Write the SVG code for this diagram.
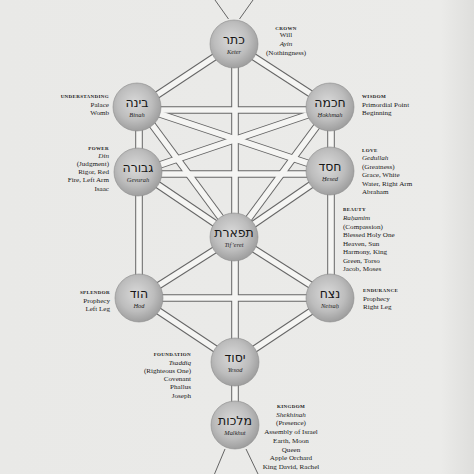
<svg xmlns="http://www.w3.org/2000/svg" xmlns:xlink="http://www.w3.org/1999/xlink" width="474" height="474" viewBox="0 0 474 474">
<defs>
<style>
.lab{font-family:"Liberation Serif","Times New Roman",serif;font-size:7.1px;fill:#1a1a1a}
.it{font-style:italic}
.hd{font-family:"Liberation Serif","Times New Roman",serif;font-size:5px;font-weight:bold;letter-spacing:0.35px;fill:#1a1a1a}
.heb{font-family:"DejaVu Sans","Liberation Sans",sans-serif;font-size:12.5px;fill:#161616;text-anchor:middle}
.tr{font-family:"Liberation Serif","Times New Roman",serif;font-style:italic;font-size:6.4px;fill:#1e1e1e;text-anchor:middle}
.sph{fill:url(#sg);stroke:#8c8c8c;stroke-width:0.6}
.thin{stroke:#555;stroke-width:0.9;fill:none}
.r{text-anchor:end}
.m{text-anchor:middle}
</style>
<radialGradient id="sg" cx="0.45" cy="0.42" r="0.6">
<stop offset="0" stop-color="#d9d9d9"/>
<stop offset="0.6" stop-color="#bdbdbd"/>
<stop offset="1" stop-color="#9c9c9c"/>
</radialGradient>
<linearGradient id="bg" x1="0" y1="0" x2="1" y2="0">
<stop offset="0" stop-color="#e9e9e7"/>
<stop offset="0.93" stop-color="#ebebe9"/>
<stop offset="1" stop-color="#dededc"/>
</linearGradient>
<g id="paths" fill="none">
<line x1="234" y1="44" x2="139" y2="107"/>
<line x1="234" y1="44" x2="331" y2="107"/>
<line x1="235" y1="44" x2="235" y2="237"/>
<line x1="139" y1="110" x2="331" y2="110"/>
<line x1="139" y1="107" x2="139" y2="172"/>
<line x1="331" y1="107" x2="331" y2="171"/>
<line x1="139" y1="107" x2="235" y2="237"/>
<line x1="331" y1="107" x2="235" y2="237"/>
<line x1="139" y1="107" x2="331" y2="171"/>
<line x1="331" y1="107" x2="139" y2="172"/>
<line x1="139" y1="174" x2="331" y2="174"/>
<line x1="139" y1="172" x2="235" y2="237"/>
<line x1="331" y1="171" x2="235" y2="237"/>
<line x1="139" y1="172" x2="139" y2="298"/>
<line x1="331" y1="171" x2="331" y2="298"/>
<line x1="235" y1="237" x2="139" y2="298"/>
<line x1="235" y1="237" x2="331" y2="298"/>
<line x1="235" y1="237" x2="235" y2="362"/>
<line x1="139" y1="298" x2="331" y2="298"/>
<line x1="139" y1="298" x2="235" y2="362"/>
<line x1="331" y1="298" x2="235" y2="362"/>
<line x1="235" y1="362" x2="235" y2="425"/>
</g>
</defs>
<rect x="0" y="0" width="474" height="474" fill="url(#bg)"/>

<g id="connectors">
<use xlink:href="#paths" stroke="#666" stroke-width="7.6"/>
<use xlink:href="#paths" stroke="#f5f5f3" stroke-width="5.6"/>
<line class="thin" x1="215" y1="0" x2="228.5" y2="19"/>
<line class="thin" x1="253" y1="0" x2="239.5" y2="19"/>
<line class="thin" x1="225" y1="449" x2="214.5" y2="474"/>
<line class="thin" x1="246" y1="449" x2="258" y2="474"/>
</g>

<g id="keter">
<circle class="sph" cx="234" cy="44" r="24"/>
<text class="heb" x="234" y="44">כתר</text>
<text class="tr" x="234" y="53.5">Keter</text>
<text class="hd m" x="286" y="30">CROWN</text>
<text class="lab m" x="286" y="37">Will</text>
<text class="lab m it" x="286" y="45.8">Ayin</text>
<text class="lab m" x="286" y="54.5">(Nothingness)</text>
</g>

<g id="binah">
<circle class="sph" cx="137" cy="107" r="24"/>
<text class="heb" x="137" y="107">בינה</text>
<text class="tr" x="137" y="116.5">Binah</text>
<text class="hd r" x="109" y="98.4">UNDERSTANDING</text>
<text class="lab r" x="109" y="106.5">Palace</text>
<text class="lab r" x="109" y="115.2">Womb</text>
</g>

<g id="hokhmah">
<circle class="sph" cx="330" cy="107" r="24"/>
<text class="heb" x="330" y="107">חכמה</text>
<text class="tr" x="330" y="116.5">Ḥokhmah</text>
<text class="hd" x="362" y="97.7">WISDOM</text>
<text class="lab" x="362" y="106.8">Primordial Point</text>
<text class="lab" x="362" y="115.2">Beginning</text>
</g>

<g id="gevurah">
<circle class="sph" cx="138" cy="172" r="24"/>
<text class="heb" x="138" y="172">גבורה</text>
<text class="tr" x="138" y="181.5">Gevurah</text>
<text class="hd r" x="109" y="149.7">POWER</text>
<text class="lab r it" x="109" y="157.5">Din</text>
<text class="lab r" x="109" y="165.8">(Judgment)</text>
<text class="lab r" x="109" y="174.1">Rigor, Red</text>
<text class="lab r" x="109" y="182.4">Fire, Left Arm</text>
<text class="lab r" x="109" y="190.7">Isaac</text>
</g>

<g id="hesed">
<circle class="sph" cx="330" cy="171" r="24"/>
<text class="heb" x="330" y="171">חסד</text>
<text class="tr" x="330" y="180.5">Ḥesed</text>
<text class="hd" x="362" y="151.7">LOVE</text>
<text class="lab it" x="362" y="160.2">Gedullah</text>
<text class="lab" x="362" y="168.5">(Greatness)</text>
<text class="lab" x="362" y="177">Grace, White</text>
<text class="lab" x="362" y="185.5">Water, Right Arm</text>
<text class="lab" x="362" y="194">Abraham</text>
</g>

<g id="tiferet">
<circle class="sph" cx="234" cy="237" r="24"/>
<text class="heb" x="234" y="237">תפארת</text>
<text class="tr" x="234" y="246.5">Tif’eret</text>
<text class="hd" x="343" y="210.7">BEAUTY</text>
<text class="lab it" x="343" y="220">Raḥamim</text>
<text class="lab" x="343" y="228.5">(Compassion)</text>
<text class="lab" x="343" y="237">Blessed Holy One</text>
<text class="lab" x="343" y="245.5">Heaven, Sun</text>
<text class="lab" x="343" y="254">Harmony, King</text>
<text class="lab" x="343" y="262.5">Green, Torso</text>
<text class="lab" x="343" y="271">Jacob, Moses</text>
</g>

<g id="hod">
<circle class="sph" cx="139" cy="298" r="24"/>
<text class="heb" x="139" y="298">הוד</text>
<text class="tr" x="139" y="307.5">Hod</text>
<text class="hd r" x="110" y="294.4">SPLENDOR</text>
<text class="lab r" x="110" y="302.5">Prophecy</text>
<text class="lab r" x="110" y="310.5">Left Leg</text>
</g>

<g id="netsah">
<circle class="sph" cx="330" cy="298" r="24"/>
<text class="heb" x="330" y="298">נצח</text>
<text class="tr" x="330" y="307.5">Netsaḥ</text>
<text class="hd" x="363" y="292.4">ENDURANCE</text>
<text class="lab" x="363" y="300.5">Prophecy</text>
<text class="lab" x="363" y="308.5">Right Leg</text>
</g>

<g id="yesod">
<circle class="sph" cx="235" cy="362" r="24"/>
<text class="heb" x="235" y="362">יסוד</text>
<text class="tr" x="235" y="371.5">Yesod</text>
<text class="hd r" x="191" y="355.7">FOUNDATION</text>
<text class="lab r it" x="191" y="364.5">Tsaddiq</text>
<text class="lab r" x="191" y="372.8">(Righteous One)</text>
<text class="lab r" x="191" y="381">Covenant</text>
<text class="lab r" x="191" y="389.3">Phallus</text>
<text class="lab r" x="191" y="397.6">Joseph</text>
</g>

<g id="malkhut">
<circle class="sph" cx="235" cy="425" r="24"/>
<text class="heb" x="235" y="425">מלכות</text>
<text class="tr" x="235" y="434.5">Malkhut</text>
<text class="hd m" x="291" y="407.7">KINGDOM</text>
<text class="lab m it" x="291" y="416.8">Shekhinah</text>
<text class="lab m" x="291" y="425.2">(Presence)</text>
<text class="lab m" x="291" y="434">Assembly of Israel</text>
<text class="lab m" x="291" y="442.8">Earth, Moon</text>
<text class="lab m" x="291" y="451.5">Queen</text>
<text class="lab m" x="291" y="460.3">Apple Orchard</text>
<text class="lab m" x="291" y="469">King David, Rachel</text>
</g>
</svg>
